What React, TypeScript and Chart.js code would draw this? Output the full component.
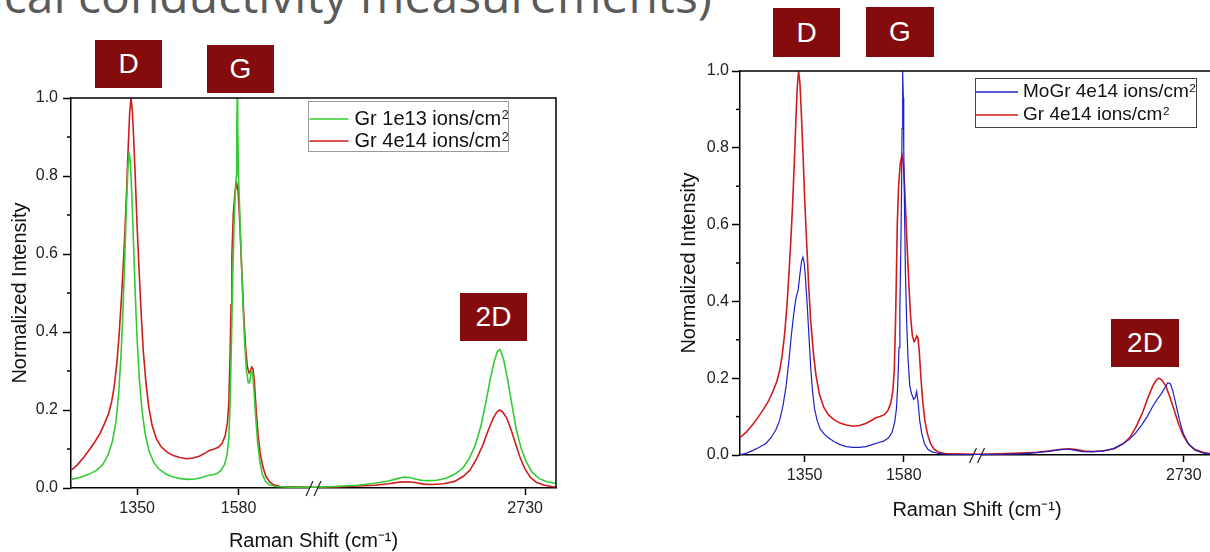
import React, { useEffect, useRef } from "react";
import { Chart, registerables } from "chart.js";

Chart.register(...registerables);

const FONT = '"Liberation Sans", Arial, sans-serif';

// ---- axis definition (Raman shift, with a break between the two segments) ----
const X_MIN = 1200;
const X_CUT_LO = 1750;
const X_CUT_HI = 2250;
const X_MAX = 2800;
const X_TICKS = [1350, 1580, 2730];
const Y_TICKS = [0, 0.2, 0.4, 0.6, 0.8, 1.0];
const Y_MINOR = [0.1, 0.3, 0.5, 0.7, 0.9];

// ---- series: Gr 4e14 ions/cm² (red) ----
const RED_X = [
  1200, 1215, 1230, 1243, 1255, 1266, 1276, 1285, 1292, 1298, 1304, 1309, 1314, 1318, 1322, 1326, 1330, 1333, 1336, 1339,
  1342, 1346, 1350, 1354, 1359, 1364, 1370, 1376, 1384, 1394, 1405, 1418, 1432, 1447, 1462, 1477, 1492, 1505, 1515, 1525,
  1535, 1543, 1550, 1555, 1558, 1561, 1563, 1565, 1568, 1572, 1576, 1579, 1582, 1585, 1588, 1592, 1596, 1600, 1604, 1607,
  1610, 1613, 1616, 1620, 1624, 1629, 1635, 1642, 1650, 1660, 1675, 1700, 1750,
  2250, 2300, 2350, 2390, 2420, 2445, 2465, 2480, 2500, 2520, 2545, 2570, 2590, 2605, 2620, 2634, 2647, 2658, 2666, 2672,
  2679, 2688, 2698, 2708, 2718, 2729, 2742, 2756, 2774, 2790, 2800,
];
const RED_Y = [
  0.045, 0.06, 0.08, 0.10, 0.12, 0.14, 0.165, 0.19, 0.22, 0.26, 0.32, 0.39, 0.48, 0.56, 0.65, 0.76, 0.88, 0.96, 1.0, 0.97,
  0.90, 0.79, 0.67, 0.57, 0.45, 0.35, 0.27, 0.21, 0.16, 0.125, 0.105, 0.092, 0.083, 0.078, 0.075, 0.077, 0.082, 0.09, 0.097, 0.10,
  0.105, 0.115, 0.135, 0.17, 0.22, 0.35, 0.47, 0.60, 0.70, 0.76, 0.78, 0.76, 0.70, 0.62, 0.54, 0.44, 0.36, 0.31, 0.295, 0.30,
  0.31, 0.305, 0.27, 0.20, 0.14, 0.09, 0.055, 0.03, 0.016, 0.008, 0.004, 0.003, 0.002,
  0.002, 0.003, 0.005, 0.007, 0.011, 0.015, 0.016, 0.014, 0.01, 0.009, 0.011, 0.017, 0.03, 0.046, 0.075, 0.11, 0.15, 0.18, 0.195, 0.2,
  0.195, 0.18, 0.15, 0.115, 0.08, 0.05, 0.027, 0.014, 0.007, 0.004, 0.003,
];

// ---- series: Gr 1e13 ions/cm² (green) ----
const GREEN_X = [
  1200, 1220, 1240, 1258, 1272, 1284, 1294, 1302, 1308, 1313, 1317, 1321, 1325, 1329, 1332, 1335, 1338, 1342, 1346, 1350,
  1355, 1361, 1368, 1377, 1388, 1400, 1415, 1430, 1448, 1465, 1482, 1497, 1510, 1522, 1532, 1540, 1548, 1554, 1558, 1561,
  1564, 1567, 1570, 1573, 1575, 1576, 1577, 1578, 1580, 1583, 1586, 1590, 1594, 1598, 1602, 1605, 1609, 1612, 1615, 1619,
  1623, 1628, 1634, 1641, 1650, 1665, 1700, 1750,
  2250, 2300, 2350, 2390, 2420, 2440, 2455, 2468, 2480, 2495, 2510, 2530, 2550, 2570, 2588, 2603, 2617, 2630, 2641, 2651,
  2660, 2667, 2673, 2681, 2690, 2699, 2709, 2720, 2732, 2746, 2762, 2780, 2800,
];
const GREEN_Y = [
  0.022, 0.027, 0.035, 0.045, 0.06, 0.085, 0.12, 0.17, 0.24, 0.33, 0.43, 0.56, 0.70, 0.82, 0.86, 0.83, 0.75, 0.62, 0.49, 0.38,
  0.28, 0.20, 0.14, 0.095, 0.065, 0.048, 0.036, 0.029, 0.024, 0.022, 0.023, 0.027, 0.032, 0.034, 0.038, 0.045, 0.06, 0.085, 0.13, 0.22,
  0.38, 0.55, 0.68, 0.77, 0.80, 0.92, 1.0, 0.93, 0.80, 0.70, 0.60, 0.47, 0.37, 0.30, 0.27, 0.27, 0.30, 0.295, 0.25, 0.18,
  0.12, 0.07, 0.035, 0.017, 0.008, 0.004, 0.002, 0.002,
  0.002, 0.004, 0.007, 0.012, 0.018, 0.024, 0.028, 0.027, 0.023, 0.02, 0.019, 0.02, 0.025, 0.035, 0.05, 0.075, 0.11, 0.16, 0.22, 0.28,
  0.325, 0.35, 0.355, 0.33, 0.28, 0.22, 0.155, 0.105, 0.068, 0.04, 0.024, 0.016, 0.012,
];

// ---- series: MoGr 4e14 ions/cm² (blue) ----
const BLUE_X = [
  1200, 1215, 1230, 1245, 1260, 1272, 1283, 1292, 1300, 1307, 1313, 1319, 1325, 1330, 1335, 1339, 1343, 1346, 1349, 1352,
  1356, 1360, 1364, 1368, 1373, 1379, 1386, 1395, 1405, 1418, 1432, 1447, 1462, 1477, 1492, 1507, 1520, 1533, 1545, 1553,
  1559, 1563, 1566, 1569, 1571, 1573, 1575, 1576, 1577, 1578, 1579, 1580, 1582, 1584, 1587, 1590, 1594, 1598, 1603, 1607,
  1610, 1613, 1617, 1622, 1628, 1636, 1646, 1660, 1680, 1750,
  2250, 2300, 2350, 2390, 2420, 2445, 2462, 2478, 2495, 2515, 2540, 2565, 2585, 2603, 2618, 2632, 2645, 2657, 2668, 2678,
  2686, 2693, 2699, 2705, 2712, 2720, 2729, 2740, 2755, 2775, 2800,
];
const BLUE_Y = [
  0.0, 0.005, 0.012, 0.02, 0.03, 0.045, 0.065, 0.09, 0.13, 0.18, 0.24, 0.31, 0.37, 0.41, 0.43, 0.47, 0.505, 0.515, 0.50, 0.46,
  0.39, 0.31, 0.23, 0.17, 0.12, 0.09, 0.068, 0.055, 0.045, 0.035, 0.027, 0.022, 0.02, 0.02, 0.022, 0.027, 0.032, 0.036, 0.045, 0.06,
  0.085, 0.12, 0.18, 0.28, 0.38, 0.52, 0.70, 0.85, 0.96, 1.0, 0.93, 0.80, 0.62, 0.47, 0.34, 0.25, 0.18, 0.16, 0.145, 0.15,
  0.165, 0.14, 0.09, 0.055, 0.03, 0.015, 0.008, 0.004, 0.002, 0.001,
  0.001, 0.002, 0.003, 0.006, 0.01, 0.014, 0.015, 0.012, 0.009, 0.008, 0.01, 0.016, 0.027, 0.04, 0.057, 0.078, 0.10, 0.125, 0.145, 0.16,
  0.175, 0.188, 0.185, 0.165, 0.13, 0.09, 0.055, 0.03, 0.013, 0.005, 0.002,
];

const LABEL_GR13 = "Gr 1e13 ions/cm²";
const LABEL_GR14 = "Gr 4e14 ions/cm²";
const LABEL_MOGR = "MoGr 4e14 ions/cm²";

const COLOR_GREEN = "#33cc33";
const COLOR_RED = "#d01c1c";
const COLOR_BLUE = "#2020c8";

const X_TITLE = "Raman Shift (cm⁻¹)";
const Y_TITLE = "Normalized Intensity";

// broken axis: values beyond the break are shifted left by the gap
const GAP = X_CUT_HI - X_CUT_LO;
const toAxis = (x: number) => (x <= X_CUT_LO ? x : x - GAP);
const fromAxis = (v: number) => (v <= X_CUT_LO ? v : v + GAP);

const points = (xs: number[], ys: number[]) => xs.map((x, i) => ({ x: toAxis(x), y: ys[i] }));

function drawLegend(chart: any, lg: any) {
  const { ctx, chartArea: a } = chart;
  const x0 = a.left + lg.dx;
  const y0 = a.top + lg.dy;
  ctx.save();
  ctx.fillStyle = "#fff";
  ctx.fillRect(x0, y0, lg.w, lg.h);
  ctx.strokeStyle = lg.border;
  ctx.lineWidth = 1;
  ctx.strokeRect(Math.round(x0) + 0.5, Math.round(y0) + 0.5, lg.w, lg.h);
  chart.data.datasets.forEach((ds: any, i: number) => {
    const cy = y0 + lg.rows[i];
    ctx.strokeStyle = ds.borderColor;
    ctx.lineWidth = 1.5;
    ctx.beginPath();
    ctx.moveTo(x0 + lg.lineFrom, cy);
    ctx.lineTo(x0 + lg.lineTo, cy);
    ctx.stroke();
    const label: string = ds.label;
    const main = label.replace("²", "");
    const hasSup = label.endsWith("²");
    ctx.fillStyle = "#111";
    ctx.textAlign = "left";
    ctx.textBaseline = "middle";
    ctx.font = `${lg.size}px ${FONT}`;
    const tx = x0 + lg.textX;
    ctx.fillText(main, tx, cy);
    if (hasSup) {
      const w = ctx.measureText(main).width;
      ctx.font = `${lg.size * 0.62}px ${FONT}`;
      ctx.textBaseline = "alphabetic";
      ctx.fillText("2", tx + w + 0.5, cy + lg.size * 0.02);
    }
  });
  ctx.restore();
}

const framePlugin = {
  id: "frameExtras",
  beforeDatasetsDraw(chart: any) {
    const { ctx, chartArea: a, scales } = chart;
    const xb = scales.x.getPixelForValue(X_CUT_LO);
    ctx.save();
    ctx.fillStyle = "#fff";
    ctx.fillRect(xb - 4, a.bottom - 2, 8, 4);
    ctx.restore();
  },
  afterDatasetsDraw(chart: any, _args: any, opts: any) {
    const { ctx, chartArea: a, scales } = chart;
    ctx.save();
    ctx.strokeStyle = "#000";
    ctx.lineWidth = 1.5;
    ctx.beginPath();
    ctx.moveTo(a.left, a.top);
    ctx.lineTo(a.right, a.top);
    ctx.lineTo(a.right, a.bottom);
    ctx.stroke();
    for (const v of Y_MINOR) {
      const y = scales.y.getPixelForValue(v);
      ctx.beginPath();
      ctx.moveTo(a.left - 4, y);
      ctx.lineTo(a.left, y);
      ctx.stroke();
    }
    const xb = scales.x.getPixelForValue(X_CUT_LO);
    const b = a.bottom;
    ctx.strokeStyle = "#222";
    ctx.lineWidth = 1.2;
    for (const dx of [-4, 4]) {
      ctx.beginPath();
      ctx.moveTo(xb + dx - 3.5, b + 8);
      ctx.lineTo(xb + dx + 3.5, b - 7);
      ctx.stroke();
    }
    ctx.restore();
    if (opts && opts.legend) drawLegend(chart, opts.legend);
  },
};

function makeConfig(p: any) {
  return {
    type: "line",
    data: {
      datasets: p.series.map((s: any) => ({
        label: s.label,
        data: points(s.xs, s.ys),
        borderColor: s.color,
        backgroundColor: s.color,
        borderWidth: s.width,
        pointRadius: 0,
        tension: 0,
        fill: false,
      })),
    },
    options: {
      animation: false,
      responsive: false,
      maintainAspectRatio: false,
      devicePixelRatio: 1,
      events: [],
      layout: { padding: { top: p.padTop, right: p.padRight, left: 0, bottom: 0 } },
      plugins: {
        legend: { display: false },
        tooltip: { enabled: false },
        frameExtras: { legend: p.legend },
      },
      scales: {
        x: {
          type: "linear",
          min: toAxis(X_MIN),
          max: toAxis(X_MAX),
          afterBuildTicks: (scale: any) => {
            scale.ticks = X_TICKS.map((v) => ({ value: toAxis(v) }));
          },
          afterFit: (scale: any) => {
            scale.height = p.xHeight;
          },
          ticks: {
            callback: (v: any) => String(fromAxis(Number(v))),
            font: { family: FONT, size: 16 },
            color: "#222",
            padding: 4,
            maxRotation: 0,
            autoSkip: false,
          },
          grid: { drawOnChartArea: false, drawTicks: true, tickLength: 7, tickColor: "#000", tickWidth: 1.5 },
          border: { display: true, color: "#000", width: 1.5 },
          title: {
            display: true,
            text: X_TITLE,
            font: { family: FONT, size: 20 },
            color: "#111",
            padding: { top: 0, bottom: p.xTitlePad },
          },
        },
        y: {
          type: "linear",
          min: 0,
          max: 1,
          afterBuildTicks: (scale: any) => {
            scale.ticks = Y_TICKS.map((v) => ({ value: v }));
          },
          afterFit: (scale: any) => {
            scale.width = p.yWidth;
          },
          ticks: {
            callback: (v: any) => Number(v).toFixed(1),
            font: { family: FONT, size: 16 },
            color: "#222",
            padding: p.yTickPad,
          },
          grid: { drawOnChartArea: false, drawTicks: true, tickLength: 8, tickColor: "#000", tickWidth: 1.5 },
          border: { display: true, color: "#000", width: 1.5 },
          title: {
            display: true,
            text: Y_TITLE,
            font: { family: FONT, size: 20 },
            color: "#111",
            padding: { top: p.yTitlePad, bottom: 0 },
          },
        },
      },
    },
    plugins: [framePlugin],
  };
}

const LEFT_PANEL = {
  series: [
    { label: LABEL_GR13, xs: GREEN_X, ys: GREEN_Y, color: COLOR_GREEN, width: 1.6 },
    { label: LABEL_GR14, xs: RED_X, ys: RED_Y, color: COLOR_RED, width: 1.6 },
  ],
  padTop: 98,
  padRight: 44,
  xHeight: 72,
  yWidth: 71,
  xTitlePad: 7,
  yTitlePad: 8,
  yTickPad: 5,
  legend: { dx: 236.5, dy: 3, w: 200, h: 50, rows: [18, 40], lineFrom: 2, lineTo: 41, textX: 47, size: 20, border: "#9a9a9a" },
};

const RIGHT_PANEL = {
  series: [
    { label: LABEL_MOGR, xs: BLUE_X, ys: BLUE_Y, color: COLOR_BLUE, width: 1.2 },
    { label: LABEL_GR14, xs: RED_X, ys: RED_Y, color: COLOR_RED, width: 1.6 },
  ],
  padTop: 71,
  padRight: 6,
  xHeight: 97,
  yWidth: 80,
  xTitlePad: 30,
  yTitlePad: 17,
  yTickPad: 3,
  legend: { dx: 235, dy: 7, w: 221, h: 49, rows: [14, 37], lineFrom: 1, lineTo: 43, textX: 48, size: 19, border: "#444" },
};

const PEAK_LABELS = [
  { text: "D", left: 95, top: 40, width: 67, height: 48 },
  { text: "G", left: 207, top: 45, width: 67, height: 48 },
  { text: "2D", left: 460, top: 293, width: 67, height: 48 },
  { text: "D", left: 773, top: 8, width: 67, height: 49 },
  { text: "G", left: 866, top: 7, width: 68, height: 50 },
  { text: "2D", left: 1111, top: 319, width: 68, height: 48 },
];

export default function App() {
  const leftRef = useRef<HTMLCanvasElement>(null);
  const rightRef = useRef<HTMLCanvasElement>(null);

  useEffect(() => {
    document.body.style.margin = "0";
    const c1 = new Chart(leftRef.current as HTMLCanvasElement, makeConfig(LEFT_PANEL) as any);
    const c2 = new Chart(rightRef.current as HTMLCanvasElement, makeConfig(RIGHT_PANEL) as any);
    return () => {
      c1.destroy();
      c2.destroy();
    };
  }, []);

  return (
    <div
      style={{
        position: "absolute",
        left: 0,
        top: 0,
        width: 1210,
        height: 552,
        overflow: "hidden",
        background: "#fff",
        fontFamily: FONT,
      }}
    >
      <div
        style={{
          position: "absolute",
          right: 498,
          top: -29,
          whiteSpace: "nowrap",
          fontFamily: '"Open Sans", sans-serif',
          fontSize: 48,
          lineHeight: "48px",
          color: "#5a5a5a",
        }}
      >
        electrical conductivity measurements)
      </div>
      <div style={{ position: "absolute", left: 0, top: 0, width: 600, height: 560 }}>
        <canvas ref={leftRef} width={600} height={560} style={{ display: "block", width: 600, height: 560 }} />
      </div>
      <div style={{ position: "absolute", left: 660, top: 0, width: 560, height: 552 }}>
        <canvas ref={rightRef} width={560} height={552} style={{ display: "block", width: 560, height: 552 }} />
      </div>
      {PEAK_LABELS.map((l, i) => (
        <div
          key={i}
          style={{
            position: "absolute",
            left: l.left,
            top: l.top,
            width: l.width,
            height: l.height,
            background: "#850c0c",
            color: "#fff",
            fontFamily: FONT,
            fontSize: 28,
            display: "flex",
            alignItems: "center",
            justifyContent: "center",
          }}
        >
          {l.text}
        </div>
      ))}
    </div>
  );
}
